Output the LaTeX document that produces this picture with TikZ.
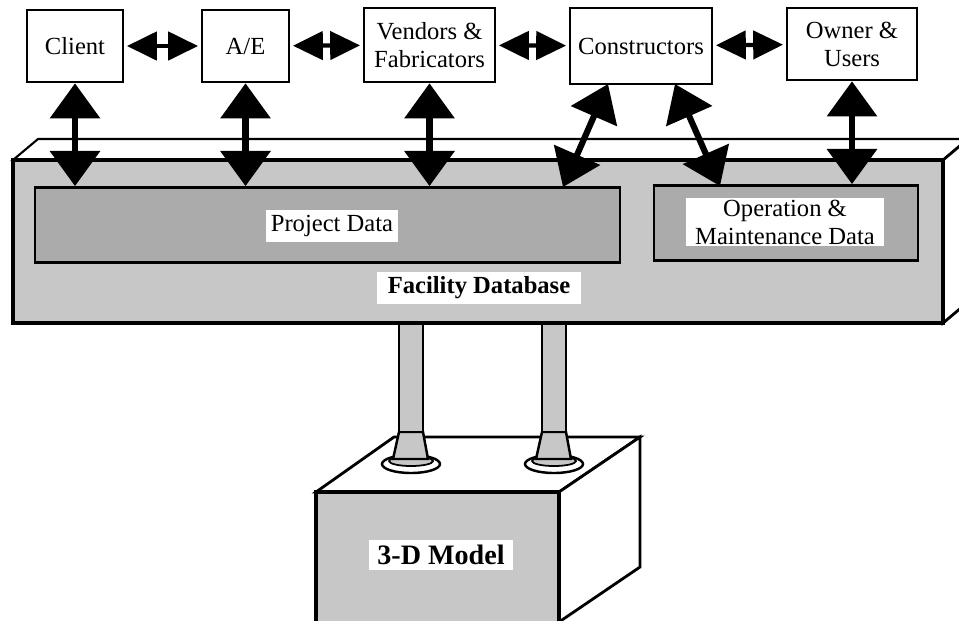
\documentclass[tikz,border=0pt]{standalone}
\usepackage{fontspec}
\setmainfont{Liberation Serif}
\usetikzlibrary{arrows.meta}

\definecolor{facegray}{gray}{0.78}
\definecolor{datagray}{gray}{0.67}

\tikzset{
  party/.style={draw, line width=1.5pt, fill=white, align=center,
    minimum height=1.44cm, font=\fontsize{14}{16}\selectfont},
  datastore/.style={draw, line width=1.6pt, fill=datagray, minimum height=1.5cm},
  tag/.style={fill=white, align=center, inner sep=3pt, font=\fontsize{14}{16}\selectfont},
  hlink/.style={{Triangle[width=16pt,length=17pt]}-{Triangle[width=16pt,length=17pt]},
    line width=2.4pt, shorten <=1.5pt, shorten >=1.5pt},
  vlink/.style={{Triangle[width=28pt,length=20pt]}-{Triangle[width=28pt,length=20pt]},
    line width=3.5pt},
  face/.style={fill=facegray, line width=1.8pt},
}

\begin{document}
\begin{tikzpicture}[x=0.02cm, y=-0.02cm, line join=miter]
    \useasboundingbox (0,0) rectangle (959,620);

    \begin{scope}
      \clip (0,0) rectangle (959,620);

      \draw [line width=1.6pt, fill=white] (316,492) -- (394,437) -- (640,437) -- (559,492) -- cycle;
      \draw [line width=1.6pt, fill=white] (559,492) -- (640,437) -- (640,567) -- (559,622) -- cycle;
      \draw [face] (316,492) rectangle (559,640);

      \foreach \px in {411,554} {
        \draw [line width=1.4pt, fill=white] (\px,464) ellipse (29 and 9);
        \draw [line width=1pt, fill=facegray] (\px,461) ellipse (22 and 5);
        \draw [line width=1.4pt, fill=facegray] (\px-12,432) -- (\px-18,459) -- (\px+17,459) -- (\px+12,432) -- cycle;
        \draw [line width=1.4pt, fill=facegray] (\px-12,323) rectangle (\px+12,432);
      }

      \draw [line width=1.2pt, fill=white] (13,160) -- (38,139) -- (968,139) -- (943,160) -- cycle;
      \draw [line width=1.6pt, fill=white] (943,160) -- (968,139) -- (968,302) -- (943,323) -- cycle;
      \draw [face, line width=2pt] (13,160) rectangle (943,323);
    \end{scope}

    \node [datastore, minimum width=11.7cm] (pdata) at (327.5,225) {};
    \node [datastore, minimum width=5.28cm] (om) at (786,223) {};

    \node [tag] (pdlabel) at (332,226) {Project Data};
    \node [tag, inner xsep=5pt, inner ysep=1pt] (omlabel) at (785,222) {Operation \&\\Maintenance Data};
    \node [tag, inner xsep=6pt, font=\bfseries\fontsize{14}{16}\selectfont] (fdb) at (479,288) {Facility Database};
    \node [tag, inner xsep=5pt, font=\bfseries\fontsize{16}{18}\selectfont] (model) at (441,555) {3-D Model};

    \node [party, minimum width=1.92cm] (client) at (75,46) {Client};
    \node [party, minimum width=1.74cm] (ae) at (245.5,46) {A/E};
    \node [party, minimum width=2.62cm, minimum height=1.48cm] (vendors) at (429.5,45) {Vendors \&\\Fabricators};
    \node [party, minimum width=2.84cm, minimum height=1.52cm] (cons) at (641,46) {Constructors};
    \node [party, minimum width=2.60cm] (owner) at (852,44) {Owner \&\\Users};

    \draw [hlink] (client) -- (ae);
    \draw [hlink] (ae) -- (vendors);
    \draw [hlink] (vendors) -- (cons);
    \draw [hlink] (cons) -- (owner);

    \draw [vlink] (client.south) -- (client.south |- pdata.north);
    \draw [vlink] (ae.south) -- (ae.south |- pdata.north);
    \draw [vlink] (vendors.south) -- (vendors.south |- pdata.north);
    \draw [vlink] (owner.south) -- (owner.south |- om.north);

    \coordinate (consleft) at (608,84);
    \coordinate (consright) at (675,84);
    \coordinate (pdatain) at (563,187);
    \coordinate (omin) at (720,186);
    \draw [vlink] (consleft) -- (pdatain);
    \draw [vlink] (consright) -- (omin);
\end{tikzpicture}
\end{document}
